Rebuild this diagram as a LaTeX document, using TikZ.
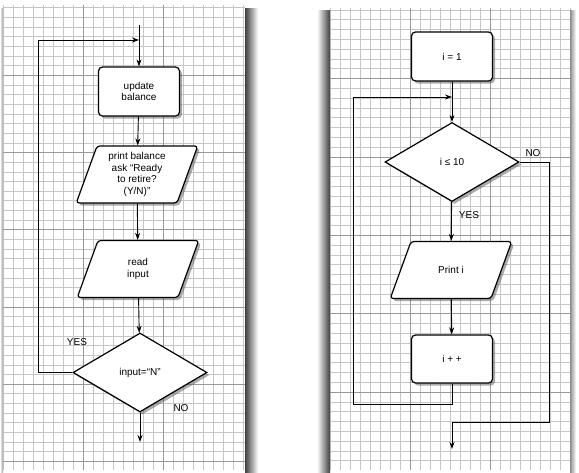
\documentclass[tikz,border=0pt]{standalone}
\usepackage{fontspec}
\setmainfont{Liberation Sans}
\usepackage{tikz}
\usetikzlibrary{arrows.meta,positioning,shapes.geometric,shadows}

% fixed-size text block for the slanted input/output boxes
\newcommand{\iotext}[1]{\parbox[c][45pt][c]{80pt}{\centering #1}}

\begin{document}
\begin{tikzpicture}[x=1pt, y=-1pt, >={Stealth[length=7pt,width=5pt]},
  minorline/.style={gray!45, line width=0.4pt},
  majorline/.style={gray!80, line width=0.6pt},
  flow/.style={line width=0.9pt, ->},
  label/.style={font=\fontsize{10}{11.5}\selectfont, inner sep=1pt},
  box/.style={draw, line width=1.2pt, fill=white, rounded corners=4pt,
    minimum width=81pt, minimum height=49pt, align=center,
    font=\fontsize{10}{11.5}\selectfont,
    drop shadow={shadow xshift=2.5pt, shadow yshift=-2.5pt, fill=black!65}},
  io/.style={draw, line width=1.2pt, fill=white, rounded corners=3pt,
    trapezium, trapezium left angle=70, trapezium right angle=110,
    trapezium stretches body, minimum width=118pt, minimum height=57pt,
    inner xsep=0pt, inner ysep=6pt,
    font=\fontsize{10}{11.5}\selectfont,
    drop shadow={shadow xshift=2.5pt, shadow yshift=-2.5pt, fill=black!65}},
  decision/.style={draw, line width=1.2pt, fill=white, diamond, aspect=1.7,
    minimum width=134pt, minimum height=79pt, inner sep=0pt, align=center,
    font=\fontsize{10}{11.5}\selectfont,
    drop shadow={shadow xshift=2.5pt, shadow yshift=-2.5pt, fill=black!65}}]

  \useasboundingbox (0,0) rectangle (579,472);

  % Graph paper, left sheet
  \fill[white] (3,5) rectangle (245,470);
  \foreach \k in {0,...,24} \draw[minorline] ({3+10*\k},5) -- ({3+10*\k},470);
  \foreach \k in {1,...,48} \draw[minorline] (3,{-2+9.65*\k}) -- (245,{-2+9.65*\k});
  \foreach \x in {83,163} \draw[majorline] (\x,5) -- (\x,470);
  \foreach \y in {75.2,152.4,229.6,306.8,384,461.2} \draw[majorline] (3,\y) -- (245,\y);
  \shade[left color=black!75, right color=white] (245,8) rectangle (258,472);
  \shade[left color=white, right color=black!40] (0,8) rectangle (3,472);

  % Graph paper, right sheet
  \fill[white] (330,8) rectangle (570,470);
  \foreach \k in {0,...,24} \draw[minorline] ({330+10*\k},8) -- ({330+10*\k},470);
  \foreach \k in {1,...,47} \draw[minorline] (330,{9.8*\k}) -- (570,{9.8*\k});
  \foreach \x in {410,490} \draw[majorline] (\x,8) -- (\x,470);
  \foreach \y in {78.4,156.8,235.2,313.6,392} \draw[majorline] (330,\y) -- (570,\y);
  \shade[left color=white, right color=black!75] (317,10) rectangle (330,472);
  \shade[left color=black!45, right color=white] (570,10) rectangle (576,472);

  % Left flowchart
  \coordinate (lstart) at (139,25);
  \coordinate (ljoin) at (139,40);
  \coordinate (lloop) at (38,40);
  \coordinate (lend) at (140,442);
  \node[box] (update) at (139,91.5) {update\\balance};
  \node[io] (ask) at (137,174.5) {\iotext{print balance\\ask “Ready\\to retire?\\(Y/N)”}};
  \node[io] (read) at (138,269) {\iotext{read\\input}};
  \node[decision] (retire) at (140,372.5) {input=“N”};
  \node[label] (lyes) at (77,342) {YES};
  \node[label] (lno) at (181,408) {NO};

  \draw[flow] (lstart) -- (update);
  \draw[flow] (update) -- (ask);
  \draw[flow] (ask) -- (read);
  \draw[flow] (read) -- (retire);
  \draw[flow] (retire.west) -| (lloop) -- (ljoin);
  \draw[flow] (retire) -- (lend);

  % Right flowchart
  \coordinate (rjoin) at (452,97);
  \coordinate (rloop) at (353,404);
  \coordinate (rbend) at (549,422);
  \coordinate (rend) at (452,449);
  \node[box] (init) at (452,56.5) {i = 1};
  \node[decision] (cond) at (452,162) {i ≤ 10};
  \node[io] (print) at (451,270) {\iotext{Print i}};
  \node[box, minimum height=48pt] (incr) at (452,359) {i + +};
  \node[label] (ryes) at (469,215) {YES};
  \node[label] (rno) at (533,153) {NO};

  \draw[flow] (init) -- (cond);
  \draw[flow] (cond) -- (print);
  \draw[flow] (print) -- (incr);
  \draw[flow] (incr.south) |- (rloop) |- (rjoin);
  \draw[flow] (cond.east) -| (rbend) -| (rend);
\end{tikzpicture}
\end{document}
